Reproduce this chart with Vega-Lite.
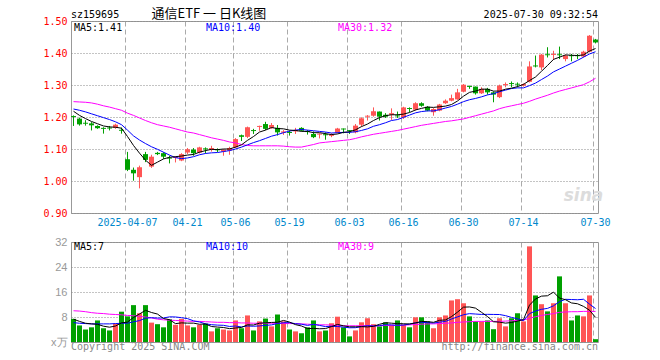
{
  "$schema": "https://vega.github.io/schema/vega-lite/v6.json",
  "padding": {"left": 42, "top": 7, "right": 5, "bottom": 5},
  "background": "white",
  "bounds": "flush",
  "spacing": 29,
  "config": {
    "view": {"stroke": "#999999", "strokeWidth": 1},
    "axis": {"domain": false, "ticks": false, "title": null, "labelFont": "DejaVu Sans Mono", "labelFontSize": 10, "labelOverlap": false},
    "axisX": {"grid": true, "gridDash": [5, 3], "gridColor": "#aaaaaa", "labelAngle": 0, "labelPadding": 4, "labelOverlap": false, "bandPosition": 0},
    "axisY": {"grid": true, "gridDash": [1, 2], "gridColor": "#888888", "labelPadding": 4, "labelOverlap": false},
    "text": {"baseline": "alphabetic", "font": "DejaVu Sans Mono", "fontSize": 10}
  },
  "resolve": {"scale": {"x": "independent", "y": "independent"}},
  "data": {"values": [
    {"d":"2025-03-24","o":1.203,"h":1.205,"l":1.172,"c":1.200,"v":7.4,"m5":1.218,"m10":1.225,"m30":1.248,"v5":7.3,"v10":6.2,"v30":10.0},
    {"d":"2025-03-25","o":1.195,"h":1.198,"l":1.173,"c":1.177,"v":5.3,"m5":1.205,"m10":1.221,"m30":1.247,"v5":6.6,"v10":6.0,"v30":9.9},
    {"d":"2025-03-26","o":1.182,"h":1.190,"l":1.173,"c":1.179,"v":4.0,"m5":1.195,"m10":1.216,"m30":1.246,"v5":6.0,"v10":5.9,"v30":9.7},
    {"d":"2025-03-27","o":1.180,"h":1.184,"l":1.158,"c":1.174,"v":4.7,"m5":1.186,"m10":1.210,"m30":1.244,"v5":5.8,"v10":5.8,"v30":9.4},
    {"d":"2025-03-28","o":1.172,"h":1.174,"l":1.163,"c":1.165,"v":6.9,"m5":1.179,"m10":1.204,"m30":1.240,"v5":5.66,"v10":5.8,"v30":9.2},
    {"d":"2025-03-31","o":1.166,"h":1.168,"l":1.148,"c":1.163,"v":4.4,"m5":1.172,"m10":1.198,"m30":1.235,"v5":5.06,"v10":5.8,"v30":9.1},
    {"d":"2025-04-01","o":1.167,"h":1.172,"l":1.158,"c":1.164,"v":3.7,"m5":1.169,"m10":1.192,"m30":1.231,"v5":4.74,"v10":5.8,"v30":8.9},
    {"d":"2025-04-02","o":1.166,"h":1.179,"l":1.163,"c":1.176,"v":5.9,"m5":1.168,"m10":1.185,"m30":1.226,"v5":5.12,"v10":5.9,"v30":8.8},
    {"d":"2025-04-03","o":1.160,"h":1.167,"l":1.148,"c":1.157,"v":9.7,"m5":1.165,"m10":1.176,"m30":1.221,"v5":6.12,"v10":6.0,"v30":8.7},
    {"d":"2025-04-07","o":1.068,"h":1.091,"l":1.031,"c":1.035,"v":8.2,"m5":1.139,"m10":1.159,"m30":1.212,"v5":6.38,"v10":6.02,"v30":8.5},
    {"d":"2025-04-08","o":1.035,"h":1.042,"l":1.001,"c":1.024,"v":11.8,"m5":1.111,"m10":1.141,"m30":1.205,"v5":7.86,"v10":6.46,"v30":8.4},
    {"d":"2025-04-09","o":1.012,"h":1.048,"l":0.977,"c":1.043,"v":9.2,"m5":1.087,"m10":1.128,"m30":1.197,"v5":8.96,"v10":6.85,"v30":8.2},
    {"d":"2025-04-10","o":1.084,"h":1.091,"l":1.059,"c":1.066,"v":11.8,"m5":1.065,"m10":1.117,"m30":1.189,"v5":10.14,"v10":7.63,"v30":8.0},
    {"d":"2025-04-11","o":1.045,"h":1.082,"l":1.041,"c":1.076,"v":6.2,"m5":1.049,"m10":1.107,"m30":1.182,"v5":9.44,"v10":7.78,"v30":7.7},
    {"d":"2025-04-14","o":1.088,"h":1.091,"l":1.081,"c":1.084,"v":5.7,"m5":1.059,"m10":1.099,"m30":1.176,"v5":8.94,"v10":7.66,"v30":7.3},
    {"d":"2025-04-15","o":1.087,"h":1.090,"l":1.069,"c":1.076,"v":4.7,"m5":1.069,"m10":1.090,"m30":1.172,"v5":7.52,"v10":7.69,"v30":7.1},
    {"d":"2025-04-16","o":1.073,"h":1.079,"l":1.055,"c":1.070,"v":7.3,"m5":1.074,"m10":1.081,"m30":1.168,"v5":7.14,"v10":8.05,"v30":7.0},
    {"d":"2025-04-17","o":1.072,"h":1.077,"l":1.058,"c":1.075,"v":5.5,"m5":1.076,"m10":1.073,"m30":1.163,"v5":5.88,"v10":8.01,"v30":6.9},
    {"d":"2025-04-18","o":1.064,"h":1.087,"l":1.062,"c":1.084,"v":7.4,"m5":1.078,"m10":1.070,"m30":1.158,"v5":6.12,"v10":7.78,"v30":6.8},
    {"d":"2025-04-21","o":1.089,"h":1.103,"l":1.084,"c":1.099,"v":5.3,"m5":1.081,"m10":1.072,"m30":1.153,"v5":6.04,"v10":7.49,"v30":6.7},
    {"d":"2025-04-22","o":1.098,"h":1.103,"l":1.079,"c":1.087,"v":4.7,"m5":1.083,"m10":1.076,"m30":1.150,"v5":6.04,"v10":6.78,"v30":6.6},
    {"d":"2025-04-23","o":1.089,"h":1.107,"l":1.086,"c":1.105,"v":5.5,"m5":1.090,"m10":1.082,"m30":1.145,"v5":5.68,"v10":6.41,"v30":6.6},
    {"d":"2025-04-24","o":1.102,"h":1.105,"l":1.086,"c":1.099,"v":5.9,"m5":1.095,"m10":1.086,"m30":1.140,"v5":5.76,"v10":5.82,"v30":6.5},
    {"d":"2025-04-25","o":1.097,"h":1.110,"l":1.092,"c":1.103,"v":3.4,"m5":1.099,"m10":1.088,"m30":1.135,"v5":4.96,"v10":5.54,"v30":6.4},
    {"d":"2025-04-28","o":1.099,"h":1.102,"l":1.090,"c":1.096,"v":4.4,"m5":1.098,"m10":1.089,"m30":1.131,"v5":4.78,"v10":5.41,"v30":6.3},
    {"d":"2025-04-29","o":1.092,"h":1.100,"l":1.079,"c":1.097,"v":4.0,"m5":1.100,"m10":1.092,"m30":1.127,"v5":4.64,"v10":5.34,"v30":6.3},
    {"d":"2025-04-30","o":1.095,"h":1.107,"l":1.082,"c":1.103,"v":3.7,"m5":1.100,"m10":1.095,"m30":1.122,"v5":4.28,"v10":4.98,"v30":6.2},
    {"d":"2025-05-06","o":1.105,"h":1.134,"l":1.103,"c":1.131,"v":6.9,"m5":1.106,"m10":1.100,"m30":1.119,"v5":4.48,"v10":5.12,"v30":6.2},
    {"d":"2025-05-07","o":1.143,"h":1.145,"l":1.125,"c":1.138,"v":4.4,"m5":1.113,"m10":1.106,"m30":1.114,"v5":4.68,"v10":4.82,"v30":6.1},
    {"d":"2025-05-08","o":1.138,"h":1.170,"l":1.134,"c":1.168,"v":8.5,"m5":1.127,"m10":1.113,"m30":1.111,"v5":5.5,"v10":5.14,"v30":6.1},
    {"d":"2025-05-09","o":1.159,"h":1.163,"l":1.147,"c":1.156,"v":3.7,"m5":1.139,"m10":1.120,"m30":1.110,"v5":5.44,"v10":5.04,"v30":6.0},
    {"d":"2025-05-12","o":1.169,"h":1.173,"l":1.157,"c":1.172,"v":6.6,"m5":1.153,"m10":1.126,"m30":1.110,"v5":6.02,"v10":5.15,"v30":6.0},
    {"d":"2025-05-13","o":1.178,"h":1.185,"l":1.159,"c":1.163,"v":7.5,"m5":1.159,"m10":1.133,"m30":1.110,"v5":6.14,"v10":5.31,"v30":6.0},
    {"d":"2025-05-14","o":1.166,"h":1.181,"l":1.163,"c":1.175,"v":5.0,"m5":1.167,"m10":1.140,"m30":1.110,"v5":6.26,"v10":5.47,"v30":6.0},
    {"d":"2025-05-15","o":1.166,"h":1.175,"l":1.142,"c":1.152,"v":8.8,"m5":1.164,"m10":1.145,"m30":1.110,"v5":6.32,"v10":5.91,"v30":6.0},
    {"d":"2025-05-16","o":1.151,"h":1.159,"l":1.144,"c":1.155,"v":6.6,"m5":1.163,"m10":1.151,"m30":1.109,"v5":6.9,"v10":6.17,"v30":5.9},
    {"d":"2025-05-19","o":1.153,"h":1.157,"l":1.142,"c":1.150,"v":4.0,"m5":1.159,"m10":1.156,"m30":1.107,"v5":6.38,"v10":6.2,"v30":5.9},
    {"d":"2025-05-20","o":1.155,"h":1.166,"l":1.147,"c":1.159,"v":3.4,"m5":1.158,"m10":1.159,"m30":1.106,"v5":5.56,"v10":5.85,"v30":5.9},
    {"d":"2025-05-21","o":1.166,"h":1.168,"l":1.155,"c":1.157,"v":2.8,"m5":1.155,"m10":1.161,"m30":1.106,"v5":5.12,"v10":5.69,"v30":5.8},
    {"d":"2025-05-22","o":1.156,"h":1.159,"l":1.145,"c":1.153,"v":4.7,"m5":1.155,"m10":1.159,"m30":1.110,"v5":4.3,"v10":5.31,"v30":5.7},
    {"d":"2025-05-23","o":1.147,"h":1.155,"l":1.134,"c":1.137,"v":6.9,"m5":1.151,"m10":1.157,"m30":1.114,"v5":4.36,"v10":5.63,"v30":5.6},
    {"d":"2025-05-26","o":1.145,"h":1.149,"l":1.133,"c":1.148,"v":3.4,"m5":1.151,"m10":1.155,"m30":1.119,"v5":4.24,"v10":5.31,"v30":5.5},
    {"d":"2025-05-27","o":1.146,"h":1.152,"l":1.129,"c":1.143,"v":3.7,"m5":1.148,"m10":1.153,"m30":1.121,"v5":4.3,"v10":4.93,"v30":5.5},
    {"d":"2025-05-28","o":1.141,"h":1.149,"l":1.137,"c":1.145,"v":6.0,"m5":1.145,"m10":1.150,"m30":1.123,"v5":4.94,"v10":5.03,"v30":5.4},
    {"d":"2025-05-29","o":1.151,"h":1.166,"l":1.149,"c":1.164,"v":8.1,"m5":1.147,"m10":1.151,"m30":1.125,"v5":5.62,"v10":4.96,"v30":5.3},
    {"d":"2025-05-30","o":1.164,"h":1.164,"l":1.149,"c":1.161,"v":4.7,"m5":1.152,"m10":1.152,"m30":1.127,"v5":5.18,"v10":4.77,"v30":5.2},
    {"d":"2025-06-03","o":1.159,"h":1.159,"l":1.147,"c":1.156,"v":1.8,"m5":1.154,"m10":1.152,"m30":1.129,"v5":4.86,"v10":4.55,"v30":5.2},
    {"d":"2025-06-04","o":1.152,"h":1.178,"l":1.149,"c":1.173,"v":3.7,"m5":1.160,"m10":1.154,"m30":1.133,"v5":4.86,"v10":4.58,"v30":5.2},
    {"d":"2025-06-05","o":1.176,"h":1.199,"l":1.170,"c":1.196,"v":6.3,"m5":1.170,"m10":1.158,"m30":1.138,"v5":4.92,"v10":4.93,"v30":5.2},
    {"d":"2025-06-06","o":1.201,"h":1.206,"l":1.189,"c":1.204,"v":7.6,"m5":1.178,"m10":1.163,"m30":1.142,"v5":4.82,"v10":5.22,"v30":5.2},
    {"d":"2025-06-09","o":1.204,"h":1.230,"l":1.201,"c":1.218,"v":5.7,"m5":1.189,"m10":1.171,"m30":1.146,"v5":5.02,"v10":5.1,"v30":5.2},
    {"d":"2025-06-10","o":1.217,"h":1.217,"l":1.189,"c":1.201,"v":5.0,"m5":1.198,"m10":1.176,"m30":1.149,"v5":5.66,"v10":5.26,"v30":5.2},
    {"d":"2025-06-11","o":1.207,"h":1.212,"l":1.197,"c":1.201,"v":6.3,"m5":1.204,"m10":1.182,"m30":1.152,"v5":6.18,"v10":5.52,"v30":5.3},
    {"d":"2025-06-12","o":1.207,"h":1.227,"l":1.191,"c":1.212,"v":5.5,"m5":1.207,"m10":1.189,"m30":1.155,"v5":6.02,"v10":5.47,"v30":5.3},
    {"d":"2025-06-13","o":1.205,"h":1.217,"l":1.197,"c":1.202,"v":6.9,"m5":1.207,"m10":1.192,"m30":1.158,"v5":5.88,"v10":5.35,"v30":5.3},
    {"d":"2025-06-16","o":1.199,"h":1.232,"l":1.194,"c":1.230,"v":5.5,"m5":1.209,"m10":1.199,"m30":1.162,"v5":5.84,"v10":5.43,"v30":5.4},
    {"d":"2025-06-17","o":1.228,"h":1.230,"l":1.215,"c":1.225,"v":4.7,"m5":1.214,"m10":1.206,"m30":1.166,"v5":5.78,"v10":5.72,"v30":5.5},
    {"d":"2025-06-18","o":1.223,"h":1.246,"l":1.220,"c":1.243,"v":7.9,"m5":1.222,"m10":1.213,"m30":1.170,"v5":6.1,"v10":6.14,"v30":5.6},
    {"d":"2025-06-19","o":1.243,"h":1.246,"l":1.232,"c":1.235,"v":7.9,"m5":1.227,"m10":1.217,"m30":1.174,"v5":6.58,"v10":6.3,"v30":5.7},
    {"d":"2025-06-20","o":1.232,"h":1.234,"l":1.218,"c":1.220,"v":6.6,"m5":1.231,"m10":1.219,"m30":1.177,"v5":6.52,"v10":6.2,"v30":5.8},
    {"d":"2025-06-23","o":1.215,"h":1.228,"l":1.204,"c":1.225,"v":4.4,"m5":1.230,"m10":1.219,"m30":1.180,"v5":6.3,"v10":6.07,"v30":5.8},
    {"d":"2025-06-24","o":1.220,"h":1.241,"l":1.218,"c":1.239,"v":7.9,"m5":1.232,"m10":1.223,"m30":1.183,"v5":6.94,"v10":6.36,"v30":5.9},
    {"d":"2025-06-25","o":1.243,"h":1.255,"l":1.241,"c":1.251,"v":8.5,"m5":1.234,"m10":1.228,"m30":1.186,"v5":7.06,"v10":6.58,"v30":6.0},
    {"d":"2025-06-26","o":1.251,"h":1.270,"l":1.249,"c":1.259,"v":13.3,"m5":1.239,"m10":1.233,"m30":1.188,"v5":8.14,"v10":7.36,"v30":6.1},
    {"d":"2025-06-27","o":1.255,"h":1.288,"l":1.254,"c":1.277,"v":13.7,"m5":1.250,"m10":1.240,"m30":1.191,"v5":9.56,"v10":8.04,"v30":6.3},
    {"d":"2025-06-30","o":1.279,"h":1.303,"l":1.277,"c":1.301,"v":12.4,"m5":1.265,"m10":1.248,"m30":1.194,"v5":11.16,"v10":8.73,"v30":6.4},
    {"d":"2025-07-01","o":1.297,"h":1.298,"l":1.288,"c":1.294,"v":8.2,"m5":1.277,"m10":1.254,"m30":1.199,"v5":11.22,"v10":9.08,"v30":6.5},
    {"d":"2025-07-02","o":1.295,"h":1.295,"l":1.270,"c":1.274,"v":6.6,"m5":1.281,"m10":1.258,"m30":1.204,"v5":10.84,"v10":8.95,"v30":6.6},
    {"d":"2025-07-03","o":1.274,"h":1.293,"l":1.272,"c":1.288,"v":6.6,"m5":1.287,"m10":1.263,"m30":1.209,"v5":9.5,"v10":8.82,"v30":6.6},
    {"d":"2025-07-04","o":1.288,"h":1.291,"l":1.270,"c":1.277,"v":6.9,"m5":1.287,"m10":1.269,"m30":1.214,"v5":8.14,"v10":8.85,"v30":6.6},
    {"d":"2025-07-07","o":1.277,"h":1.280,"l":1.246,"c":1.270,"v":4.1,"m5":1.281,"m10":1.273,"m30":1.219,"v5":6.48,"v10":8.82,"v30":6.6},
    {"d":"2025-07-08","o":1.262,"h":1.301,"l":1.259,"c":1.298,"v":7.6,"m5":1.281,"m10":1.279,"m30":1.226,"v5":6.36,"v10":8.79,"v30":6.6},
    {"d":"2025-07-09","o":1.300,"h":1.308,"l":1.293,"c":1.303,"v":5.0,"m5":1.287,"m10":1.284,"m30":1.231,"v5":6.04,"v10":8.44,"v30":6.7},
    {"d":"2025-07-10","o":1.306,"h":1.311,"l":1.293,"c":1.303,"v":7.6,"m5":1.290,"m10":1.289,"m30":1.235,"v5":6.24,"v10":7.87,"v30":6.8},
    {"d":"2025-07-11","o":1.304,"h":1.308,"l":1.293,"c":1.301,"v":9.2,"m5":1.295,"m10":1.291,"m30":1.239,"v5":6.7,"v10":7.42,"v30":6.9},
    {"d":"2025-07-14","o":1.298,"h":1.305,"l":1.295,"c":1.303,"v":6.6,"m5":1.302,"m10":1.291,"m30":1.243,"v5":7.2,"v10":6.84,"v30":7.0},
    {"d":"2025-07-15","o":1.310,"h":1.374,"l":1.308,"c":1.358,"v":30.6,"m5":1.314,"m10":1.298,"m30":1.249,"v5":11.8,"v10":9.08,"v30":7.6},
    {"d":"2025-07-16","o":1.361,"h":1.392,"l":1.355,"c":1.358,"v":14.9,"m5":1.325,"m10":1.306,"m30":1.256,"v5":13.78,"v10":9.91,"v30":8.1},
    {"d":"2025-07-17","o":1.355,"h":1.397,"l":1.347,"c":1.395,"v":12.1,"m5":1.343,"m10":1.317,"m30":1.262,"v5":14.68,"v10":10.46,"v30":8.5},
    {"d":"2025-07-18","o":1.396,"h":1.418,"l":1.386,"c":1.393,"v":9.8,"m5":1.361,"m10":1.328,"m30":1.268,"v5":14.8,"v10":10.75,"v30":8.8},
    {"d":"2025-07-21","o":1.394,"h":1.407,"l":1.378,"c":1.397,"v":12.4,"m5":1.380,"m10":1.341,"m30":1.275,"v5":15.96,"v10":11.58,"v30":9.1},
    {"d":"2025-07-22","o":1.396,"h":1.420,"l":1.381,"c":1.393,"v":21.0,"m5":1.387,"m10":1.350,"m30":1.281,"v5":14.04,"v10":12.92,"v30":9.5},
    {"d":"2025-07-23","o":1.381,"h":1.395,"l":1.374,"c":1.392,"v":12.4,"m5":1.394,"m10":1.359,"m30":1.286,"v5":13.54,"v10":13.66,"v30":9.6},
    {"d":"2025-07-24","o":1.393,"h":1.397,"l":1.374,"c":1.390,"v":6.9,"m5":1.393,"m10":1.368,"m30":1.291,"v5":12.5,"v10":13.59,"v30":9.7},
    {"d":"2025-07-25","o":1.393,"h":1.397,"l":1.381,"c":1.390,"v":8.5,"m5":1.392,"m10":1.377,"m30":1.296,"v5":12.24,"v10":13.52,"v30":9.7},
    {"d":"2025-07-28","o":1.389,"h":1.407,"l":1.386,"c":1.404,"v":8.2,"m5":1.394,"m10":1.387,"m30":1.301,"v5":11.4,"v10":13.68,"v30":9.8},
    {"d":"2025-07-29","o":1.404,"h":1.456,"l":1.402,"c":1.454,"v":14.9,"m5":1.406,"m10":1.397,"m30":1.310,"v5":10.18,"v10":12.11,"v30":9.8},
    {"d":"2025-07-30","o":1.442,"h":1.444,"l":1.430,"c":1.433,"v":0.9,"m5":1.414,"m10":1.404,"m30":1.321,"v5":7.88,"v10":10.71,"v30":9.8}
  ]},
  "vconcat": [
    {
      "width": 527,
      "height": 192,
      "encoding": {
        "x": {"field": "d", "type": "ordinal", "sort": null,
          "scale": {"type": "band", "paddingInner": 0.1667, "paddingOuter": 0},
          "axis": {"values": ["2025-04-07","2025-04-21","2025-05-06","2025-05-19","2025-06-03","2025-06-16","2025-06-30","2025-07-14","2025-07-30"],
            "labelExpr": "datum.value == '2025-04-07' ? datum.value : slice(datum.value, 5)",
            "labelColor": "#0088CC"}}
      },
      "layer": [
        {
          "mark": {"type": "rule", "strokeWidth": 1},
          "encoding": {
            "y": {"field": "l", "type": "quantitative", "scale": {"domain": [0.9, 1.5], "nice": false, "zero": false},
              "axis": {"values": [0.9, 1.0, 1.1, 1.2, 1.3, 1.4, 1.5], "format": ".2f", "labelColor": "#FF0000"}},
            "y2": {"field": "h"},
            "color": {"condition": {"test": "datum.c >= datum.o", "value": "#FF5555"}, "value": "#00A000"}
          }
        },
        {
          "mark": {"type": "bar"},
          "encoding": {
            "y": {"field": "o", "type": "quantitative", "scale": {"domain": [0.9, 1.5], "nice": false, "zero": false},
              "axis": {"values": [0.9, 1.0, 1.1, 1.2, 1.3, 1.4, 1.5], "format": ".2f", "labelColor": "#FF0000"}},
            "y2": {"field": "c"},
            "color": {"condition": {"test": "datum.c >= datum.o", "value": "#FF5555"}, "value": "#00A000"}
          }
        },
        {"mark": {"type": "line", "color": "#FF00FF", "strokeWidth": 1}, "encoding": {"y": {"field": "m30", "type": "quantitative", "scale": {"domain": [0.9, 1.5], "nice": false, "zero": false},
              "axis": {"values": [0.9, 1.0, 1.1, 1.2, 1.3, 1.4, 1.5], "format": ".2f", "labelColor": "#FF0000"}}}},
        {"mark": {"type": "line", "color": "#0000FF", "strokeWidth": 1}, "encoding": {"y": {"field": "m10", "type": "quantitative", "scale": {"domain": [0.9, 1.5], "nice": false, "zero": false},
              "axis": {"values": [0.9, 1.0, 1.1, 1.2, 1.3, 1.4, 1.5], "format": ".2f", "labelColor": "#FF0000"}}}},
        {"mark": {"type": "line", "color": "#000000", "strokeWidth": 1}, "encoding": {"y": {"field": "m5", "type": "quantitative", "scale": {"domain": [0.9, 1.5], "nice": false, "zero": false},
              "axis": {"values": [0.9, 1.0, 1.1, 1.2, 1.3, 1.4, 1.5], "format": ".2f", "labelColor": "#FF0000"}}}},
        {"data": {"values": [{"t": "sz159695", "d": "2025-03-24", "y": 1.5094}]},
          "mark": {"type": "text", "align": "left", "dx": -2.5, "color": "#000000"},
          "encoding": {"text": {"field": "t"}, "x": {"field": "d", "type": "ordinal"},
            "y": {"field": "y", "type": "quantitative", "scale": {"domain": [0.9, 1.5], "nice": false, "zero": false},
              "axis": {"values": [0.9, 1.0, 1.1, 1.2, 1.3, 1.4, 1.5], "format": ".2f", "labelColor": "#FF0000"}}}},
        {"data": {"values": [{"t": "通信ETF 一 日K线图", "d": "2025-04-11", "y": 1.5094}]},
          "mark": {"type": "text", "align": "left", "font": "Noto Sans CJK SC", "fontSize": 13, "color": "#000000"},
          "encoding": {"text": {"field": "t"}, "x": {"field": "d", "type": "ordinal"},
            "y": {"field": "y", "type": "quantitative", "scale": {"domain": [0.9, 1.5], "nice": false, "zero": false},
              "axis": {"values": [0.9, 1.0, 1.1, 1.2, 1.3, 1.4, 1.5], "format": ".2f", "labelColor": "#FF0000"}}}},
        {"data": {"values": [{"t": "2025-07-30 09:32:54", "d": "2025-07-30", "y": 1.5094}]},
          "mark": {"type": "text", "align": "right", "dx": 2.5, "color": "#000000"},
          "encoding": {"text": {"field": "t"}, "x": {"field": "d", "type": "ordinal"},
            "y": {"field": "y", "type": "quantitative", "scale": {"domain": [0.9, 1.5], "nice": false, "zero": false},
              "axis": {"values": [0.9, 1.0, 1.1, 1.2, 1.3, 1.4, 1.5], "format": ".2f", "labelColor": "#FF0000"}}}},
        {"data": {"values": [
            {"t": "MA5:1.41", "d": "2025-03-24", "y": 1.4688, "s": "MA5"},
            {"t": "MA10:1.40", "d": "2025-04-24", "y": 1.4688, "s": "MA10"},
            {"t": "MA30:1.32", "d": "2025-05-29", "y": 1.4688, "s": "MA30"}]},
          "mark": {"type": "text", "align": "left", "dx": 0.5},
          "encoding": {"text": {"field": "t"}, "x": {"field": "d", "type": "ordinal"},
            "y": {"field": "y", "type": "quantitative", "scale": {"domain": [0.9, 1.5], "nice": false, "zero": false},
              "axis": {"values": [0.9, 1.0, 1.1, 1.2, 1.3, 1.4, 1.5], "format": ".2f", "labelColor": "#FF0000"}},
            "color": {"field": "s", "type": "nominal", "legend": null,
              "scale": {"domain": ["MA5", "MA10", "MA30"], "range": ["#000000", "#0000FF", "#FF00FF"]}}}},
        {"data": {"values": [{"t": "sina", "d": "2025-07-28", "y": 0.9375}]},
          "mark": {"type": "text", "align": "center", "font": "DejaVu Sans", "fontSize": 17, "fontWeight": "bold", "fontStyle": "italic", "color": "#dcdcdc"},
          "encoding": {"text": {"field": "t"}, "x": {"field": "d", "type": "ordinal"},
            "y": {"field": "y", "type": "quantitative", "scale": {"domain": [0.9, 1.5], "nice": false, "zero": false},
              "axis": {"values": [0.9, 1.0, 1.1, 1.2, 1.3, 1.4, 1.5], "format": ".2f", "labelColor": "#FF0000"}}}}
      ]
    },
    {
      "width": 527,
      "height": 100,
      "encoding": {
        "x": {"field": "d", "type": "ordinal", "sort": null,
          "scale": {"type": "band", "paddingInner": 0.1667, "paddingOuter": 0},
          "axis": {"values": ["2025-04-07","2025-04-21","2025-05-06","2025-05-19","2025-06-03","2025-06-16","2025-06-30","2025-07-14","2025-07-30"],
            "labels": false}}
      },
      "layer": [
        {
          "mark": {"type": "bar"},
          "encoding": {
            "y": {"field": "v", "type": "quantitative", "scale": {"domain": [0, 32], "nice": false, "zero": true},
              "axis": {"values": [0, 8, 16, 24, 32], "labelExpr": "datum.value == 0 ? 'x万' : datum.label", "labelColor": "#999999", "labelFont": "Liberation Sans", "labelFontSize": 11}},
            "color": {"condition": {"test": "datum.c >= datum.o", "value": "#FF5555"}, "value": "#00A000"}
          }
        },
        {"mark": {"type": "line", "color": "#FF00FF", "strokeWidth": 1}, "encoding": {"y": {"field": "v30", "type": "quantitative", "scale": {"domain": [0, 32], "nice": false, "zero": true},
              "axis": {"values": [0, 8, 16, 24, 32], "labelExpr": "datum.value == 0 ? 'x万' : datum.label", "labelColor": "#999999", "labelFont": "Liberation Sans", "labelFontSize": 11}}}},
        {"mark": {"type": "line", "color": "#0000FF", "strokeWidth": 1}, "encoding": {"y": {"field": "v10", "type": "quantitative", "scale": {"domain": [0, 32], "nice": false, "zero": true},
              "axis": {"values": [0, 8, 16, 24, 32], "labelExpr": "datum.value == 0 ? 'x万' : datum.label", "labelColor": "#999999", "labelFont": "Liberation Sans", "labelFontSize": 11}}}},
        {"mark": {"type": "line", "color": "#000000", "strokeWidth": 1}, "encoding": {"y": {"field": "v5", "type": "quantitative", "scale": {"domain": [0, 32], "nice": false, "zero": true},
              "axis": {"values": [0, 8, 16, 24, 32], "labelExpr": "datum.value == 0 ? 'x万' : datum.label", "labelColor": "#999999", "labelFont": "Liberation Sans", "labelFontSize": 11}}}},
        {"data": {"values": [
            {"t": "MA5:7", "d": "2025-03-24", "y": 29.34, "s": "MA5"},
            {"t": "MA10:10", "d": "2025-04-24", "y": 29.34, "s": "MA10"},
            {"t": "MA30:9", "d": "2025-05-29", "y": 29.34, "s": "MA30"}]},
          "mark": {"type": "text", "align": "left", "dx": 0.5},
          "encoding": {"text": {"field": "t"}, "x": {"field": "d", "type": "ordinal"},
            "y": {"field": "y", "type": "quantitative", "scale": {"domain": [0, 32], "nice": false, "zero": true},
              "axis": {"values": [0, 8, 16, 24, 32], "labelExpr": "datum.value == 0 ? 'x万' : datum.label", "labelColor": "#999999", "labelFont": "Liberation Sans", "labelFontSize": 11}},
            "color": {"field": "s", "type": "nominal", "legend": null,
              "scale": {"domain": ["MA5", "MA10", "MA30"], "range": ["#000000", "#0000FF", "#FF00FF"]}}}},
        {"data": {"values": [{"t": "Copyright 2025 SINA.COM", "d": "2025-03-24", "y": -2.56}]},
          "mark": {"type": "text", "align": "left", "dx": -2.5, "color": "#888888"},
          "encoding": {"text": {"field": "t"}, "x": {"field": "d", "type": "ordinal"},
            "y": {"field": "y", "type": "quantitative", "scale": {"domain": [0, 32], "nice": false, "zero": true},
              "axis": {"values": [0, 8, 16, 24, 32], "labelExpr": "datum.value == 0 ? 'x万' : datum.label", "labelColor": "#999999", "labelFont": "Liberation Sans", "labelFontSize": 11}}}},
        {"data": {"values": [{"t": "http://finance.sina.com.cn", "d": "2025-07-30", "y": -2.56}]},
          "mark": {"type": "text", "align": "right", "dx": 2.5, "color": "#888888"},
          "encoding": {"text": {"field": "t"}, "x": {"field": "d", "type": "ordinal"},
            "y": {"field": "y", "type": "quantitative", "scale": {"domain": [0, 32], "nice": false, "zero": true},
              "axis": {"values": [0, 8, 16, 24, 32], "labelExpr": "datum.value == 0 ? 'x万' : datum.label", "labelColor": "#999999", "labelFont": "Liberation Sans", "labelFontSize": 11}}}}
      ]
    }
  ]
}
